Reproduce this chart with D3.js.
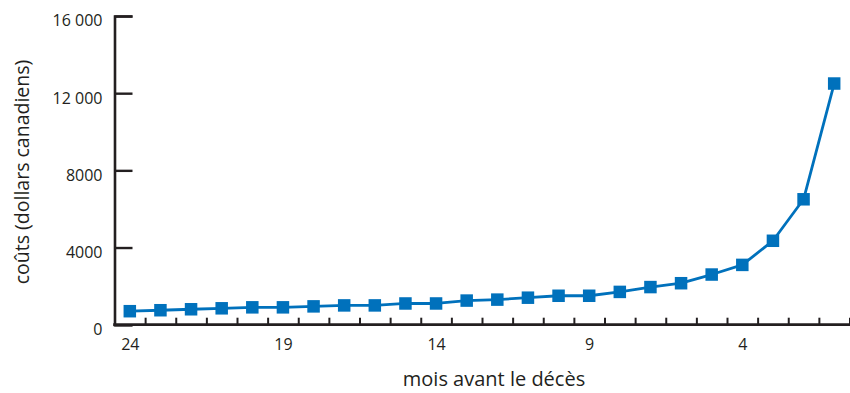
<!DOCTYPE html>
<html><head><meta charset="utf-8">
<script src="https://cdn.jsdelivr.net/npm/d3@7"></script>
<style>
html,body{margin:0;padding:0;background:#fff;}
svg{display:block;}
text{font-family:"Open Sans",sans-serif;fill:#231f20;}
</style></head>
<body>
<svg id="c" width="850" height="393"></svg>
<script>
const months = [24,23,22,21,20,19,18,17,16,15,14,13,12,11,10,9,8,7,6,5,4,3,2,1];
const costs  = [700,750,800,850,900,900,950,1000,1000,1100,1100,1250,1300,1400,1500,1500,1700,1950,2150,2600,3100,4350,6500,12500];
const xLabels = [24,19,14,9,4];
const yTicks = [0,4000,8000,12000,16000];
const xTitle = "mois avant le décès";
const yTitle = "coûts (dollars canadiens)";

const svg = d3.select("#c");
const ink = "#231f20", blue = "#0071bc";
const x = d3.scaleLinear().domain([24.5,0.5]).range([114.5,849.5]);
const y = d3.scaleLinear().domain([0,16000]).range([324.7,16]);
const fmt = v => v >= 10000 ? d3.format(",")(v).replace(/,/g," ") : String(v);

// y axis
const gy = svg.append("g").attr("transform","translate(114.5,0)")
  .call(d3.axisLeft(y).tickValues(yTicks).tickSize(-18).tickPadding(12).tickFormat(fmt));
gy.select(".domain").attr("stroke",ink).attr("stroke-width",2.6);
gy.selectAll(".tick line").attr("stroke",ink).attr("stroke-width",2.4);
gy.selectAll(".tick text").attr("font-size",16).attr("fill",ink).attr("dy","0.62em");

// x axis: boundary ticks
const bounds = d3.range(23.5,-0.5,-1);
const gx = svg.append("g").attr("transform","translate(0,324.7)")
  .call(d3.axisBottom(x).tickValues(bounds).tickSize(-7).tickFormat(""));
gx.select(".domain").attr("stroke",ink).attr("stroke-width",2.8).attr("d","M113.2,0H850");
gx.selectAll(".tick line").attr("stroke",ink).attr("stroke-width",2);
// x labels
const gl = svg.append("g").attr("transform","translate(0,324.7)")
  .call(d3.axisBottom(x).tickValues(xLabels).tickSize(0).tickPadding(14).tickFormat(d3.format("d")));
gl.select(".domain").remove();
gl.selectAll(".tick text").attr("font-size",16).attr("fill",ink);

// titles
svg.append("text").attr("x",494).attr("y",386).attr("text-anchor","middle")
  .attr("font-size",20).text(xTitle);
svg.append("text").attr("transform","translate(29,172) rotate(-90)").attr("text-anchor","middle")
  .attr("font-size",19.5).text(yTitle);

// line
const data = months.map((m,i)=>({m, v:costs[i]}));
svg.append("path").datum(data)
  .attr("fill","none").attr("stroke",blue).attr("stroke-width",2.8).attr("stroke-linejoin","round")
  .attr("d", d3.line().x(d=>x(d.m)).y(d=>y(d.v)));
const s = 12.5;
svg.append("g").selectAll("rect").data(data).join("rect")
  .attr("x",d=>x(d.m)-s/2).attr("y",d=>y(d.v)-s/2)
  .attr("width",s).attr("height",s).attr("fill",blue);
</script>
</body></html>
